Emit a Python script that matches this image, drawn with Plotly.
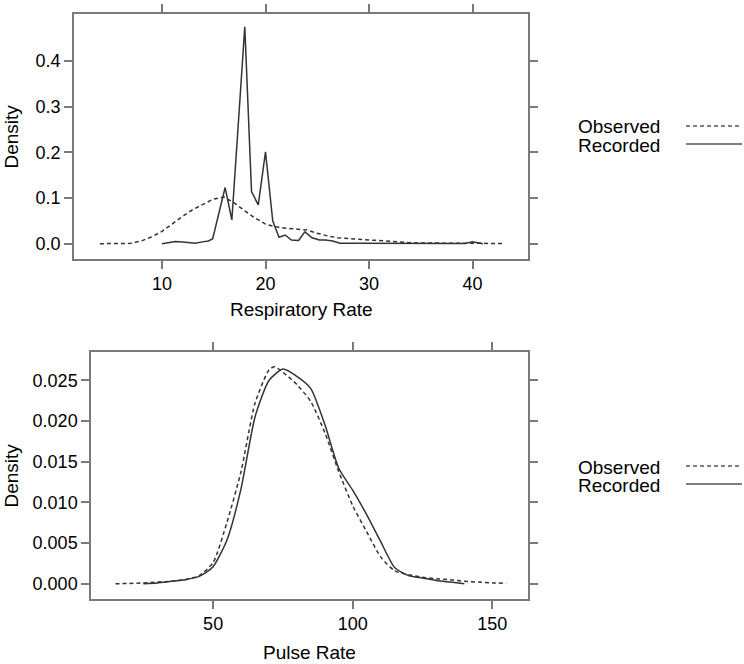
import plotly.graph_objects as go

# ---------------- data ----------------
# Top panel: Respiratory Rate
resp_obs_x = [4, 5, 6, 7, 8, 9, 10, 11, 12, 13, 14, 15, 16, 17, 18, 19, 20, 21, 22, 23,
              24, 25, 26, 27, 28, 29, 30, 31, 32, 33, 34, 35, 36, 37, 38, 39, 40, 41, 42, 43]
resp_obs_y = [0.0, 0.0, 0.0, 0.0008, 0.006, 0.015, 0.027, 0.044, 0.060, 0.075, 0.087, 0.098,
              0.102, 0.089, 0.072, 0.056, 0.043, 0.037, 0.034, 0.032, 0.030, 0.023, 0.017,
              0.013, 0.011, 0.009, 0.008, 0.007, 0.005, 0.003, 0.002, 0.0015, 0.001, 0.001,
              0.001, 0.001, 0.001, 0.0008, 0.0005, 0.0003]

resp_rec_x = [10, 10.7, 11.3, 12.0, 12.6, 13.2, 13.9, 14.5, 14.9, 16.1, 16.75, 18.0, 18.65,
              19.3, 20.0, 20.7, 21.3, 21.9, 22.5, 23.2, 23.8, 24.5, 25.2, 25.8, 26.5, 27.2,
              28, 30, 32, 34, 36, 38, 39.3, 40, 40.6, 41]
resp_rec_y = [0.0, 0.003, 0.005, 0.004, 0.002, 0.001, 0.004, 0.006, 0.011, 0.123, 0.052,
              0.475, 0.114, 0.085, 0.201, 0.050, 0.014, 0.019, 0.008, 0.007, 0.026, 0.013,
              0.008, 0.008, 0.006, 0.001, 0.001, 0.001, 0.001, 0.0005, 0.0005, 0.0005,
              0.0005, 0.004, 0.0008, 0.0]

# Bottom panel: Pulse Rate
pulse_obs_x = [15, 20, 25, 30, 35, 40, 45, 50, 55, 60, 65, 70, 72, 75, 80, 85, 90, 95, 100,
               105, 110, 115, 120, 125, 130, 135, 140, 145, 150, 155]
pulse_obs_y = [0.0, 0.00003, 0.0001, 0.0002, 0.0003, 0.0005, 0.0010, 0.0026, 0.0076, 0.0138,
               0.0222, 0.0263, 0.0267, 0.0260, 0.0245, 0.0224, 0.0186, 0.0138, 0.0096,
               0.0064, 0.0033, 0.0016, 0.0011, 0.0008, 0.0006, 0.0005, 0.0003, 0.0002,
               0.0001, 0.00005]

pulse_rec_x = [25, 30, 35, 40, 45, 50, 55, 60, 65, 70, 75, 80, 85, 90, 95, 100, 105, 110,
               115, 120, 125, 130, 135, 140]
pulse_rec_y = [0.0, 0.0001, 0.0003, 0.0005, 0.0009, 0.0021, 0.0054, 0.0117, 0.0205, 0.0250,
               0.0264, 0.0255, 0.0240, 0.0196, 0.0142, 0.0115, 0.0085, 0.0052, 0.0020,
               0.0010, 0.0007, 0.0004, 0.0002, 0.0]

series_names = ["Observed", "Recorded"]
resp_xticks = [10, 20, 30, 40]
resp_yticks = [0.0, 0.1, 0.2, 0.3, 0.4]
pulse_xticks = [50, 100, 150]
pulse_yticks = [0.000, 0.005, 0.010, 0.015, 0.020, 0.025]

# ---------------- styling ----------------
W, H = 744, 664
FONT = "Liberation Sans, Arial, Helvetica, sans-serif"
LINE_C = "#333333"
BOX_C = "#7a7a7a"
DASH = "4px,3px"


def px_x(p):
    return p / W


def px_y(p):
    return 1 - p / H


fig = go.Figure()

fig.add_trace(go.Scatter(x=resp_obs_x, y=resp_obs_y, mode="lines", name=series_names[0],
                         line=dict(color=LINE_C, width=1.5, dash=DASH),
                         xaxis="x", yaxis="y", showlegend=False))
fig.add_trace(go.Scatter(x=resp_rec_x, y=resp_rec_y, mode="lines", name=series_names[1],
                         line=dict(color=LINE_C, width=1.5),
                         xaxis="x", yaxis="y", showlegend=False))
fig.add_trace(go.Scatter(x=pulse_obs_x, y=pulse_obs_y, mode="lines", name=series_names[0],
                         line=dict(color=LINE_C, width=1.5, dash=DASH, shape="spline", smoothing=0.6),
                         xaxis="x2", yaxis="y2", showlegend=False))
fig.add_trace(go.Scatter(x=pulse_rec_x, y=pulse_rec_y, mode="lines", name=series_names[1],
                         line=dict(color=LINE_C, width=1.5, shape="spline", smoothing=0.6),
                         xaxis="x2", yaxis="y2", showlegend=False))

axis_common = dict(showline=True, linecolor=BOX_C, linewidth=1.5, mirror="ticks",
                   ticks="outside", ticklen=8, tickwidth=1.5, tickcolor=BOX_C,
                   showgrid=False, zeroline=False, automargin=False,
                   tickfont=dict(family=FONT, size=18, color="black"))

top_box = (74, 528, 14, 259)
bot_box = (91, 528, 352, 599)

fig.update_layout(
    width=W, height=H,
    margin=dict(l=0, r=0, t=0, b=0),
    paper_bgcolor="white", plot_bgcolor="white",
    font=dict(family=FONT, color="black"),
    showlegend=False,
    xaxis=dict(domain=[px_x(top_box[0]), px_x(top_box[1])], range=[1.5, 45.36],
               tickvals=resp_xticks, anchor="y", **axis_common),
    yaxis=dict(domain=[px_y(top_box[3]), px_y(top_box[2])], range=[-0.0335, 0.503],
               tickvals=resp_yticks, tickformat=".1f", anchor="x", **axis_common),
    xaxis2=dict(domain=[px_x(bot_box[0]), px_x(bot_box[1])], range=[6.25, 162.8],
                tickvals=pulse_xticks, anchor="y2", **axis_common),
    yaxis2=dict(domain=[px_y(bot_box[3]), px_y(bot_box[2])], range=[-0.00188, 0.0285],
                tickvals=pulse_yticks, tickformat=".3f", anchor="x2", **axis_common),
)

ann = []
title_font = dict(family=FONT, size=19, color="black")
# axis titles
ann.append(dict(text="Respiratory Rate", x=px_x((top_box[0] + top_box[1]) / 2), y=px_y(309),
                xref="paper", yref="paper", showarrow=False, font=title_font,
                xanchor="center", yanchor="middle"))
ann.append(dict(text="Pulse Rate", x=px_x((bot_box[0] + bot_box[1]) / 2), y=px_y(652),
                xref="paper", yref="paper", showarrow=False, font=title_font,
                xanchor="center", yanchor="middle"))
ann.append(dict(text="Density", x=px_x(11), y=px_y((top_box[2] + top_box[3]) / 2),
                xref="paper", yref="paper", showarrow=False, font=title_font, textangle=-90,
                xanchor="center", yanchor="middle"))
ann.append(dict(text="Density", x=px_x(11), y=px_y((bot_box[2] + bot_box[3]) / 2),
                xref="paper", yref="paper", showarrow=False, font=title_font, textangle=-90,
                xanchor="center", yanchor="middle"))

shapes = []
for (oy, ry) in [(127, 145), (467, 485)]:
    for name, yy, dash in [(series_names[0], oy, DASH), (series_names[1], ry, "solid")]:
        ann.append(dict(text=name, x=px_x(576), y=px_y(yy), xref="paper", yref="paper",
                        showarrow=False, font=title_font, xanchor="left", yanchor="middle"))
        shapes.append(dict(type="line", xref="paper", yref="paper",
                           x0=px_x(686), x1=px_x(742), y0=px_y(yy - 1), y1=px_y(yy - 1),
                           line=dict(color="#555555", width=1.5, dash=dash)))

fig.update_layout(annotations=ann, shapes=shapes)

fig.write_html("out.html",
               config={"displayModeBar": False},
               post_script="document.body.style.margin='0px';document.body.style.overflow='hidden';")
